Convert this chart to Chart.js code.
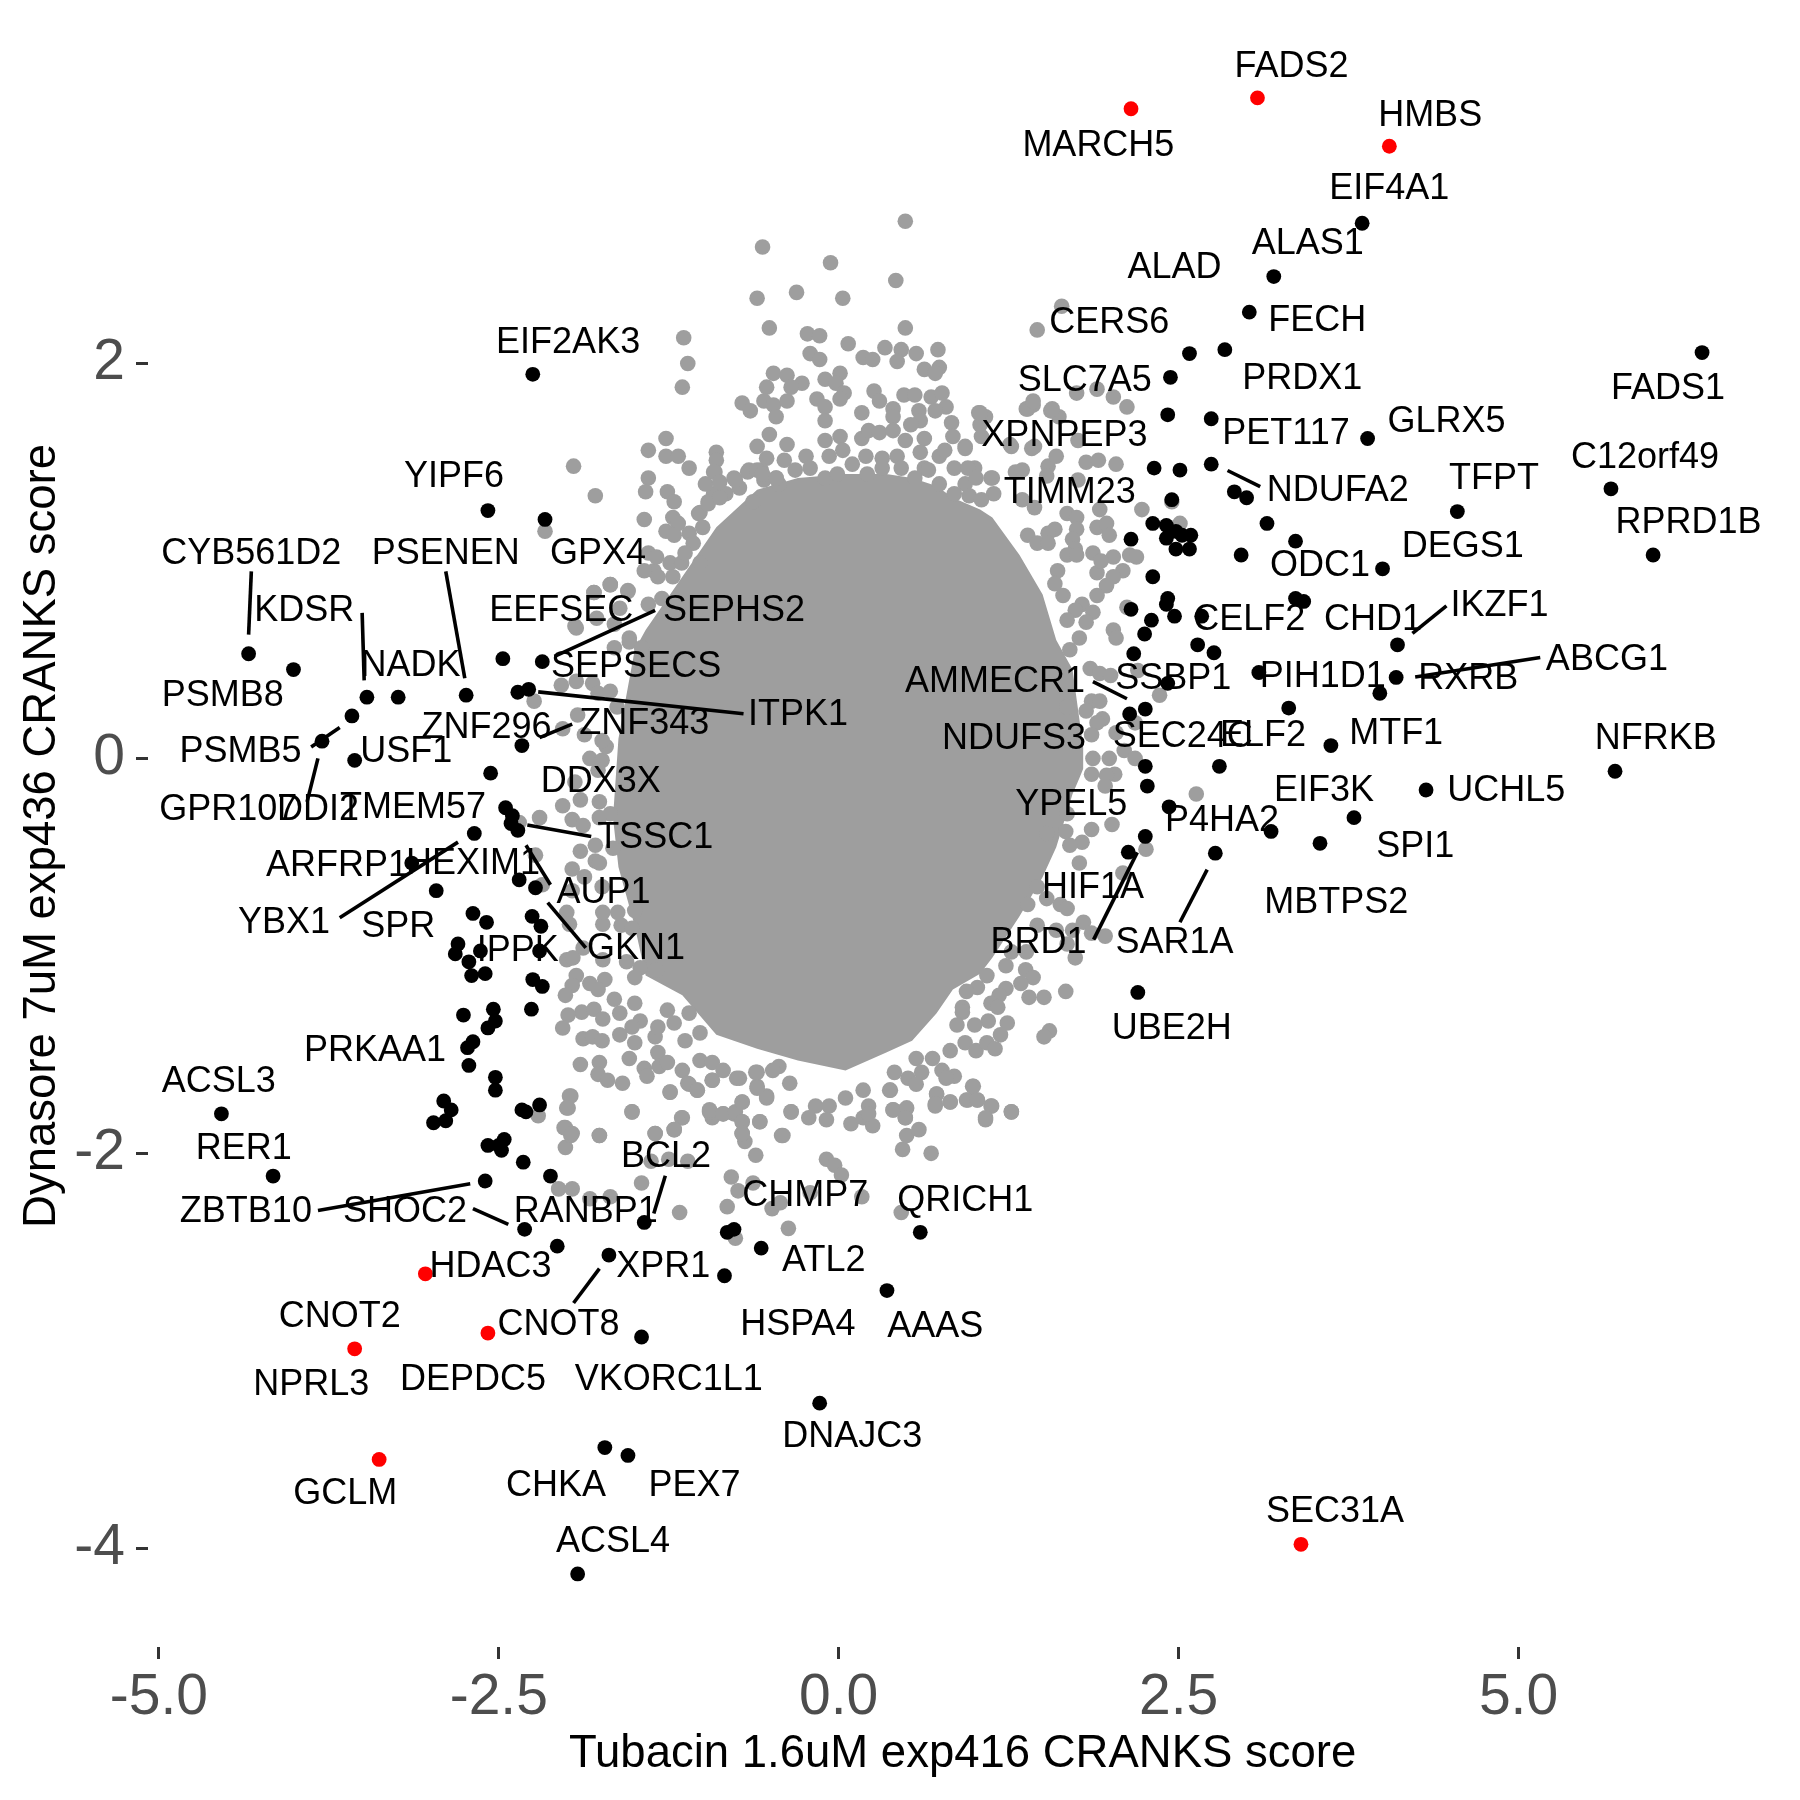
<!DOCTYPE html>
<html><head><meta charset="utf-8">
<style>html,body{margin:0;padding:0;background:#fff}#w{width:1800px;height:1800px}</style>
<script src="https://cdn.jsdelivr.net/npm/chart.js@4"></script></head>
<body><div id="w"><canvas id="c" width="1800" height="1800"></canvas></div>
<script>
const xTicks=[-5,-2.5,0,2.5,5];
const xTickLabels=["-5.0","-2.5","0.0","2.5","5.0"];
const yTicks=[2,0,-2,-4];
const yTickLabels=["2","0","-2","-4"];
const xTitle="Tubacin 1.6uM exp416 CRANKS score";
const yTitle="Dynasore 7uM exp436 CRANKS score";

// dense centre of the gray cloud, read as an envelope
const coreX=[-1.66,-1.62,-1.5,-1.42,-1.15,-0.9,-0.6,-0.3,0.05,0.35,0.54,0.72,0.84,1.04,1.13,1.33,1.5,1.6,1.72,1.77,1.8];
const coreUpper=[-0.3,0.1,0.55,0.65,0.92,1.17,1.36,1.42,1.44,1.44,1.42,1.38,1.32,1.26,1.22,1.03,0.83,0.6,0.45,0.2,0.05];
const coreLower=[-0.3,-0.55,-0.85,-1.1,-1.2,-1.4,-1.47,-1.53,-1.58,-1.49,-1.43,-1.29,-1.17,-1.09,-1.01,-0.8,-0.6,-0.45,-0.18,-0.1,-0.05];

const grayPoints=[[0.49,2.72],[-0.56,2.59],[-0.06,2.51],[0.42,2.42],[-0.6,2.33],[-0.31,2.36],[0.03,2.33],[-0.51,2.18],[0.49,2.18],[-1.14,2.13],[-1.11,2],[-1.15,1.88],[-0.23,2.15],[-0.14,2.14],[0.07,2.1],[-0.21,2.05],[-0.14,2.02],[0.18,2.03],[0.25,2.02],[0.34,2.08],[0.46,2.07],[0.43,2.01],[0.57,2.05],[0.73,2.07],[0.74,1.98],[0.63,1.97],[0.71,1.95],[-0.48,1.95],[-0.38,1.94],[-0.27,1.9],[-0.35,1.88],[-0.1,1.92],[0.01,1.95],[-0.02,1.9],[-0.53,1.88],[-0.71,1.8],[-0.65,1.76],[-0.55,1.81],[-0.48,1.79],[-0.46,1.73],[-0.38,1.81],[-0.16,1.82],[-0.1,1.78],[-0.1,1.71],[0.04,1.85],[0.01,1.82],[0.26,1.86],[0.3,1.81],[0.4,1.77],[0.4,1.73],[0.48,1.84],[0.56,1.84],[0.59,1.76],[0.6,1.71],[0.53,1.69],[0.68,1.83],[0.76,1.85],[0.79,1.78],[0.71,1.76],[0.83,1.7],[0.84,1.63],[0.93,1.58],[1.03,1.75],[1.08,1.73],[1.04,1.69],[1.05,1.63],[1.26,1.59],[1.43,1.79],[1.39,1.77],[1.56,1.76],[1.62,1.73],[1.46,2.17],[1.64,2.29],[-1.27,1.62],[-2.16,1.15],
[-0.51,1.64],[-0.6,1.58],[-0.38,1.59],[-0.53,1.52],[-0.4,1.51],[-0.24,1.53],[-0.32,1.46],[-0.1,1.61],[0.01,1.63],[-0.07,1.53],[0.03,1.56],[0.17,1.75],[0.17,1.62],[0.22,1.66],[0.3,1.65],[0.4,1.66],[0.49,1.61],[0.63,1.62],[0.43,1.53],[0.32,1.52],[0.2,1.53],[0.74,1.53],[0.6,1.55],[0.78,1.56],[0.63,1.47],[0.85,1.47],[1,1.47],[0.93,1.39],[1.12,1.42],[0.96,1.33],[-0.92,1.45],[-0.77,1.42],[-0.66,1.46],[-0.57,1.46],[-0.46,1.42],[-0.92,1.34],[1.14,1.34],
[-0.09,-2.03],[-0.03,-2.06],[0.02,-2.11],[0.68,-2],[0.47,-1.98],[0.5,-1.91],[0.59,-1.88],[0.46,-2.3],[0.17,-2.22],[-0.37,-2.38],[-0.49,-2.28],[-0.43,-2.25],[-0.21,-2.2],[-0.79,-2.12],[-0.63,-2.15],[-0.74,-2.19],[-0.82,-2.27],[-0.76,-2.43],[-0.61,-2.01],[-0.69,-1.94],[-0.71,-1.9],[-0.42,-1.91],[-0.58,-1.84],[-0.35,-1.79],[-0.71,-1.74],[-0.71,-1.84],[-0.77,-1.8],[-0.85,-1.8],[-0.93,-1.82],[-0.95,-1.79],[-1.15,-1.82],[-1.21,-1.88],[-1.35,-1.9],[-1.52,-1.79],[-1.76,-1.91],[-2.01,-1.97],[-1.97,-1.91],[-2.02,-1.87],[-2,-1.77],[-1.97,-1.71],[-2.21,-1.81],[-2.06,-2.18],[-1.96,-2.18],[-1.83,-2.23],[-1.68,-2.22],[-1.45,-2.15],[-1.38,-2.04],[-1.25,-2.03],[-1.11,-2.04],[-1.17,-2.3],[-1.24,-1.69],[-1.1,-1.65],[-1.04,-1.68],[-0.6,-1.66],[-0.53,-1.71],[0.05,-1.72],[0.18,-1.68],[0.38,-1.68],[0.22,-1.76],[-0.07,-1.76],[-0.17,-1.76],[-0.22,-1.82],[-0.09,-1.83],[0.09,-1.85],[0.18,-1.82],[0.25,-1.86],[0.22,-1.8],[0.4,-1.78],[0.49,-1.78],[0.49,-1.82],[0.72,-1.7],[0.71,-1.76],[0.82,-1.74],[0.95,-1.73],[1.02,-1.73],[0.99,-1.66],[1.12,-1.76],[1.08,-1.83],[1.27,-1.79],[-0.93,-1.63],[-0.73,-1.62],[-0.61,-1.59],[-0.44,-1.56],
[-1.68,0.88],[-1.8,0.84],[-1.55,0.85],[-1.94,0.67],[-1.54,0.61],[-1.65,0.56],[-2.24,0.29],[-2.35,-0.325],[-2.23,-0.49],[-2.18,-0.64],[-1.96,-0.67],[-1.74,-0.65],[-2,-0.78],[-1.36,0.95],
[1.38,1.77],[1.43,1.81],[1.57,1.77],[1.75,1.85],[1.9,1.87],[2.02,1.83],[2.12,1.78],[1.42,1.57],[1.04,1.75],[1.76,1.61],
[-1.03,1.24],[-0.96,1.3],[-0.83,1.34],[-0.73,1.37],[-0.63,1.3],[-0.55,1.41],[-0.44,1.39],[-0.21,1.47],[-0.1,1.42],[-0.01,1.44],[0.1,1.49],[0.21,1.44],[0.32,1.47],[0.46,1.47],[0.56,1.42],[0.66,1.46],[0.74,1.39],[0.85,1.34],[1.05,1.31],
// upper left edge
[-1.95,1.48],[-1.79,1.33],[-1.4,1.56],[-1.27,1.53],[-1.18,1.53],[-1.1,1.47],[-1.4,1.42],[-1.42,1.35],[-1.26,1.35],[-1.21,1.3],[-1.43,1.21],[-1.22,1.22],[-1.18,1.19],[-1.27,1.15],[-1.21,1.13],[-1.1,1.14],[-0.9,1.55],[-0.9,1.51],[-0.91,1.45],[-0.98,1.39],[-0.875,1.4],[-0.76,1.41],[-0.67,1.45],[-0.6,1.46],[-0.56,1.44],[-0.46,1.42],[-1.02,1.245],[-0.96,1.29],[-0.875,1.32],[-1.07,1.09],[-1,1.17],[-1.4,1.04],[-1.34,1.02],[-1.24,0.99],[-1.155,0.99],[-1.43,0.95],[-1.33,0.92],[-1.22,0.92],[-1.13,1.04],[-1.02,0.99],[-1.68,0.88],[-1.8,0.84],[-1.55,0.845],[-1.61,0.76],[-1.3,0.81],[-1.4,0.78],[-1.78,0.71],[-1.65,0.68],[-1.93,0.66],[-1.54,0.59],[-1.45,0.56],
// upper right edge
[0.93,1.57],[0.95,1.47],[1.01,1.42],[1.13,1.42],[1.3,1.45],[1.35,1.46],[1.54,1.48],[1.6,1.53],[1.53,1.43],[1.82,1.5],[1.91,1.51],[2.04,1.49],[1.44,1.58],[1.27,1.58],[1.76,1.41],[1.44,1.27],[1.35,1.31],[1.92,1.26],[2.23,1.26],[2.51,1.19],[2.45,1.3],[1.68,1.24],[1.75,1.22],[1.59,1.16],[1.54,1.14],[1.75,1.16],[1.72,1.11],[1.9,1.17],[1.97,1.19],[1.99,1.13],[1.39,1.13],[1.46,1.09],[1.54,1.09],[1.74,1.06],[1.68,1.03],[1.75,1.03],[1.87,1.04],[2.02,1.02],[2.14,1.03],[2.19,1.02],[2.09,0.95],[1.9,0.94],[1.93,1],[2.02,0.92],[1.97,0.875],[1.9,0.825],[1.61,0.95],[1.59,0.885],[1.65,0.825],[1.79,0.78],[1.87,0.74],[1.82,0.69],[1.74,0.75],[1.68,0.7],[1.77,0.61],[2.02,0.65],[2.04,0.61],[2.12,0.765],[1.7,0.55],
// left edge
[-2.04,0.37],[-1.93,0.39],[-1.92,0.22],[-2.03,0.15],[-1.87,0.12],[-1.83,0],[-1.74,-0.01],[-1.77,-0.06],[-1.94,-0.12],[-1.9,-0.21],[-2.03,-0.24],[-1.76,-0.22],[-1.96,-0.31],[-1.88,-0.34],[-2.2,-0.3],[-1.68,-0.28],[-1.76,-0.3],[-1.9,-0.47],[-1.79,-0.44],[-1.79,-0.52],[-1.66,-0.455],[-1.96,-0.56],[-1.87,-0.6],[-1.76,-0.53],[-1.71,0.06],[-1.81,0.38],[-1.77,0.33],[-1.68,0.34],[-1.63,0.26],[-1.74,0.09],
// right edge
[1.85,0.455],[1.92,0.43],[2,0.42],[2.36,0.32],[1.86,0.29],[1.92,0.29],[1.82,0.24],[1.68,0.26],[1.94,0.2],[1.9,0.18],[1.86,0.12],[2.04,0.13],[2.18,0.18],[2.1,0.04],[2.18,0],[1.99,0],[1.87,0],[2.03,-0.08],[1.97,-0.085],[1.86,-0.08],[1.96,-0.14],[2.63,-0.18],[2.01,-0.335],[1.86,-0.36],[1.67,-0.37],[1.79,-0.425],[1.7,-0.44],[2.26,-0.46],[1.77,-0.53],[2.09,-0.58],[1.68,-0.28],[1.53,-0.38],[2.2,0.445],
// lower left edge
[-1.735,-0.84],[-1.98,-0.84],[-1.6,-0.845],[-1.52,-0.86],[-1.735,-0.78],[-1.625,-0.78],[-1.5,-0.77],[-1.88,-0.96],[-2,-1.02],[-1.955,-1.01],[-1.735,-1.02],[-1.56,-1.03],[-1.46,-1.06],[-1.34,-1.07],[-1.93,-1.1],[-1.83,-1.14],[-1.72,-1.12],[-1.77,-1.17],[-1.96,-1.15],[-2.01,-1.2],[-1.65,-1.22],[-1.5,-1.11],[-1.5,-1.24],[-1.61,-1.29],[-1.46,-1.33],[-1.52,-1.36],[-1.89,-1.285],[-1.8,-1.27],[-1.735,-1.32],[-1.99,-1.3],[-2.03,-1.365],[-1.61,-1.4],[-1.88,-1.42],[-1.81,-1.41],[-1.74,-1.43],[-1.5,-1.44],[-1.35,-1.41],[-1.33,-1.36],[-1.26,-1.275],[-1.21,-1.34],[-1.1,-1.29],[-1.13,-1.43],[-1.02,-1.39],[-1.54,-1.52],[-1.33,-1.49],[-1.9,-1.55],[-1.76,-1.54],[-1.77,-1.6],[-1.7,-1.63],[-1.59,-1.645],[-1.43,-1.57],[-1.41,-1.61],[-1.32,-1.56],[-1.26,-1.54],[-1.15,-1.58],[-1.02,-1.53],[-0.93,-1.54],[-0.93,-1.63],[-0.85,-1.58],[-0.75,-1.62],[-0.6,-1.59],[-0.485,-1.58],[-1.11,-1.645],[-1.04,-1.68],[-1.24,-1.69],[-0.6,-1.67],[-0.53,-1.72],[-0.36,-1.645],[-1.98,-1.71],[-1.99,-1.77],[-1.52,-1.79],[-1.155,-1.82],[-1.21,-1.88],[-1.35,-1.9],[-1.76,-1.91],[-0.95,-1.78],[-0.85,-1.8],[-0.76,-1.79],[-0.71,-1.74],[-0.58,-1.84],[-0.71,-1.84],[-0.35,-1.79],[-0.41,-1.91],[-0.71,-1.9],[-2.01,-1.87],[-1.96,-1.9],
// lower right edge
[1.46,-0.65],[1.53,-0.71],[1.63,-0.74],[1.68,-0.76],[1.39,-0.74],[1.46,-0.845],[1.6,-0.87],[1.72,-0.87],[1.8,-0.83],[1.86,-0.885],[1.96,-0.9],[1.68,-0.94],[1.27,-0.98],[1.38,-0.98],[1.74,-1.01],[1.23,-1.05],[1.375,-1.07],[1.43,-1.11],[1.09,-1.1],[1.34,-1.14],[1.02,-1.16],[0.94,-1.18],[1.23,-1.165],[1.18,-1.2],[1.67,-1.18],[1.51,-1.21],[1.4,-1.21],[1.12,-1.24],[1.17,-1.26],[0.91,-1.26],[0.91,-1.285],[1.1,-1.33],[1,-1.35],[1.24,-1.34],[1.19,-1.4],[0.87,-1.35],[1.55,-1.38],[1.51,-1.41],[0.93,-1.44],[1.01,-1.48],[1.09,-1.44],[1.15,-1.47],[0.82,-1.48],[0.69,-1.52],[0.57,-1.52],[0.76,-1.58],[0.85,-1.61],[0.79,-1.62],[0.61,-1.59],[0.51,-1.62],[0.57,-1.65],[0.41,-1.59],[0.375,-1.68],[0.985,-1.66],[0.72,-1.7],[0.71,-1.75],[0.82,-1.74],[0.94,-1.73],[1.02,-1.73],[1.125,-1.76],[1.27,-1.79],[1.08,-1.82],[0.4,-1.78],[0.5,-1.77],[0.49,-1.82]];

const blackPoints=[[3.85,2.71],[3.2,2.44],[3.02,2.26],[2.84,2.07],[2.58,2.05],[2.44,1.93],[2.42,1.74],[2.74,1.72],[3.89,1.62],[2.74,1.49],[2.32,1.47],[2.51,1.46],[2.45,1.31],[2.91,1.35],[3,1.32],[3.15,1.19],[3.36,1.1],[2.96,1.03],[4,0.96],[2.15,1.11],[2.31,1.19],[2.41,1.18],[2.41,1.115],[2.48,1.15],[2.525,1.13],[2.59,1.13],[2.48,1.06],[2.58,1.06],[2.31,0.92],[2.42,0.81],[2.41,0.78],[2.15,0.755],[2.3,0.7],[2.47,0.72],[2.67,0.72],[3.36,0.81],[3.42,0.795],[2.17,0.53],[2.64,0.575],[2.76,0.535],[2.25,0.63],[4.11,0.575],[3.09,0.435],[4.1,0.41],[3.98,0.33],[2.42,0.38],[3.31,0.255],[2.255,0.25],[2.14,0.225],[3.62,0.065],[2.255,-0.04],[2.8,-0.04],[2.27,-0.14],[2.43,-0.245],[4.32,-0.16],[3.79,-0.3],[3.18,-0.37],[3.54,-0.43],[2.77,-0.48],[2.255,-0.395],[2.13,-0.475],[2.2,-1.185],[6.35,2.055],[5.68,1.365],[5.99,1.03],[4.55,1.25],[5.71,-0.065],
[-2.25,1.945],[-2.58,1.255],[-2.16,1.21],[-4.34,0.53],[-4.01,0.45],[-3.47,0.31],[-3.24,0.31],[-2.74,0.32],[-2.47,0.505],[-2.18,0.49],[-2.36,0.335],[-2.28,0.35],[-3.58,0.215],[-3.8,0.087],[-3.56,-0.01],[-2.33,0.065],[-2.56,-0.075],[-2.45,-0.25],[-2.4,-0.29],[-2.41,-0.33],[-2.36,-0.365],[-2.68,-0.38],[-3.14,-0.53],[-2.96,-0.67],[-2.35,-0.615],[-2.23,-0.655],[-2.69,-0.785],[-2.59,-0.83],[-2.255,-0.8],[-2.19,-0.85],[-2.8,-0.94],[-2.82,-0.99],[-2.72,-1.03],[-2.635,-0.975],[-2.2,-0.975],[-2.7,-1.1],[-2.6,-1.09],[-2.25,-1.12],[-2.18,-1.155],[-2.76,-1.3],[-2.54,-1.27],[-2.525,-1.33],[-2.58,-1.365],[-2.26,-1.27],[-2.69,-1.435],[-2.73,-1.465],[-2.72,-1.555],[-2.525,-1.615],[-2.525,-1.68],[-2.905,-1.735],[-2.85,-1.78],[-2.98,-1.845],[-2.89,-1.835],[-2.33,-1.78],[-2.3,-1.79],[-2.2,-1.755],[-4.54,-1.8],[-4.16,-2.115],[-2.58,-1.96],[-2.48,-1.985],[-2.5,-1.96],[-2.46,-1.93],[-2.32,-2.045],[-2.6,-2.14],[-2.12,-2.115],[-2.31,-2.385],[-2.07,-2.47],[-1.69,-2.515],[-1.43,-2.35],[-0.82,-2.4],[-0.77,-2.385],[-0.57,-2.48],[-0.84,-2.62],[0.6,-2.4],[0.355,-2.695],[-1.45,-2.93],[-0.14,-3.265],[-1.72,-3.49],[-1.55,-3.53],[-1.92,-4.13]];

const redX=[2.15,3.08,4.05,-3.04,-3.56,-2.58,-3.38,3.4];
const redY=[3.29,3.345,3.1,-2.61,-2.99,-2.91,-3.55,-3.98];

const labelNames=["FADS2","HMBS","MARCH5","EIF4A1","ALAS1","ALAD","FECH","CERS6","PRDX1","SLC7A5","GLRX5","XPNPEP3","PET117","FADS1","C12orf49","TFPT","TIMM23","NDUFA2","RPRD1B","DEGS1","ODC1","IKZF1","CHD1","CELF2","ABCG1","RXRB","PIH1D1","SSBP1","AMMECR1","MTF1","ELF2","SEC24C","NDUFS3","NFRKB","UCHL5","EIF3K","YPEL5","P4HA2","SPI1","MBTPS2","HIF1A","BRD1","SAR1A","UBE2H","EIF2AK3","YIPF6","CYB561D2","PSENEN","GPX4","KDSR","EEFSEC","SEPHS2","NADK","SEPSECS","PSMB8","ITPK1","ZNF296","ZNF343","PSMB5","USF1","DDX3X","GPR107","DDI2","TMEM57","TSSC1","ARFRP1","HEXIM1","AUP1","YBX1","SPR","IPPK","GKN1","PRKAA1","ACSL3","RER1","BCL2","CHMP7","QRICH1","ZBTB10","SHOC2","RANBP1","ATL2","HDAC3","XPR1","CNOT2","CNOT8","HSPA4","AAAS","DEPDC5","NPRL3","VKORC1L1","DNAJC3","GCLM","CHKA","PEX7","ACSL4","SEC31A"];
const labelX=[3.33,4.35,1.91,4.05,3.45,2.47,3.52,1.99,3.41,1.81,4.47,1.66,3.29,6.1,5.93,4.82,1.7,3.67,6.25,4.59,3.54,4.86,3.93,3.02,5.65,4.63,3.56,2.46,1.15,4.1,3.12,2.53,1.29,6.01,4.91,3.57,1.71,2.82,4.24,3.66,1.87,1.47,2.47,2.45,-1.99,-2.83,-4.32,-2.89,-1.77,-3.93,-2.04,-0.77,-3.15,-1.49,-4.53,-0.3,-2.59,-1.43,-4.4,-3.18,-1.75,-4.49,-3.83,-3.13,-1.35,-3.69,-2.69,-1.73,-4.08,-3.24,-2.36,-1.49,-3.41,-4.56,-4.375,-1.27,-0.245,0.93,-4.36,-3.19,-1.86,-0.11,-2.56,-1.29,-3.67,-2.06,-0.3,0.71,-2.69,-3.88,-1.25,0.1,-3.63,-2.08,-1.06,-1.66,3.65];
const labelY=[3.51,3.26,3.11,2.89,2.61,2.49,2.22,2.21,1.93,1.92,1.71,1.64,1.65,1.88,1.53,1.42,1.35,1.36,1.2,1.08,0.98,0.78,0.71,0.71,0.505,0.41,0.42,0.41,0.395,0.13,0.12,0.115,0.105,0.105,-0.157,-0.157,-0.23,-0.31,-0.44,-0.726,-0.65,-0.93,-0.93,-1.365,2.11,1.43,1.04,1.04,1.04,0.755,0.755,0.755,0.476,0.47,0.325,0.226,0.163,0.18,0.04,0.04,-0.11,-0.255,-0.255,-0.244,-0.395,-0.54,-0.53,-0.674,-0.825,-0.848,-0.97,-0.958,-1.475,-1.63,-1.97,-2.01,-2.21,-2.235,-2.29,-2.29,-2.29,-2.54,-2.57,-2.57,-2.82,-2.86,-2.86,-2.87,-3.14,-3.165,-3.14,-3.43,-3.72,-3.68,-3.68,-3.96,-3.81];

const segFromX=[-4.32,-3.505,-2.89,-1.35,-2.21,-1.96,-3.88,-3.83,-2.29,-2.3,-2.14,-3.67,-3.83,-2.69,-1.275,-1.76,2.86,4.47,5.16,1.87,2.196,2.71];
const segFromY=[0.947,0.737,0.947,0.75,0.337,0.174,0.058,0,-0.337,-0.44,-0.73,-0.807,-2.29,-2.28,-2.114,-2.584,1.458,0.772,0.511,0.389,-0.476,-0.563];
const segToX=[-4.34,-3.49,-2.75,-2.09,-0.7,-2.2,-3.67,-3.91,-1.82,-2.12,-1.86,-2.8,-2.71,-2.43,-1.36,-1.95,3.1,4.22,4.24,2.12,1.875,2.51];
const segToY=[0.627,0.395,0.406,0.517,0.226,0.105,0.157,-0.22,-0.395,-0.64,-0.96,-0.424,-2.154,-2.36,-2.305,-2.758,1.376,0.633,0.412,0.302,-0.918,-0.83];

const GRAY="#9E9E9E";
const toPts=a=>a.map(p=>({x:p[0],y:p[1]}));
const segDatasets=segFromX.map((x,i)=>({type:"scatter",showLine:true,borderColor:"#000",borderWidth:3.6,pointRadius:0,
  data:[{x:x,y:segFromY[i]},{x:segToX[i],y:segToY[i]}],order:1}));

const labelPlugin={id:"geneLabels",afterDatasetsDraw(ch){
  const c=ch.ctx,sx=ch.scales.x,sy=ch.scales.y;
  c.save();c.fillStyle="#000";c.font='36px "Liberation Sans"';c.textAlign="center";c.textBaseline="middle";
  labelNames.forEach((t,i)=>c.fillText(t,sx.getPixelForValue(labelX[i]),sy.getPixelForValue(labelY[i])+1.5));
  c.font='45.5px "Liberation Sans"';
  c.fillText(xTitle,962.6,1754);
  c.translate(42,836);c.rotate(-Math.PI/2);c.fillText(yTitle,0,0);
  c.restore();
}};

new Chart(document.getElementById("c"),{
  type:"scatter",
  data:{datasets:[
    {showLine:true,data:coreX.map((x,i)=>({x,y:coreUpper[i]})),borderColor:GRAY,backgroundColor:GRAY,borderWidth:0,pointRadius:0,fill:"+1",order:6},
    {showLine:true,data:coreX.map((x,i)=>({x,y:coreLower[i]})),borderColor:GRAY,borderWidth:0,pointRadius:0,fill:false,order:6},
    {data:toPts(grayPoints),backgroundColor:GRAY,borderColor:GRAY,pointBorderWidth:0,pointRadius:7.8,order:5},
    {data:toPts(blackPoints),backgroundColor:"#000",borderColor:"#000",pointBorderWidth:0,pointRadius:7.4,order:3},
    {data:redX.map((x,i)=>({x,y:redY[i]})),backgroundColor:"#FF0000",borderColor:"#FF0000",pointBorderWidth:0,pointRadius:7.4,order:2},
    ...segDatasets
  ]},
  options:{
    responsive:false,animation:false,
    layout:{padding:{left:0,right:15,top:10,bottom:0}},
    plugins:{legend:{display:false},tooltip:{enabled:false},title:{display:false}},
    scales:{
      x:{type:"linear",min:-5.08,max:6.96,
        afterBuildTicks(s){s.ticks=xTicks.map(v=>({value:v}))},
        afterFit(s){s.height=153;s.paddingLeft=0;s.paddingRight=0},
        grid:{drawOnChartArea:false,drawTicks:true,tickLength:12,tickColor:"#333333",tickWidth:3},
        border:{display:false},
        ticks:{autoSkip:false,maxRotation:0,padding:5,color:"#4D4D4D",font:{family:"Liberation Sans",size:57},
          callback(v){return xTickLabels[xTicks.indexOf(v)]}}},
      y:{type:"linear",min:-4.5,max:3.79,
        afterBuildTicks(s){s.ticks=yTicks.map(v=>({value:v}))},
        afterFit(s){s.width=148;s.paddingTop=0;s.paddingBottom=0},
        grid:{drawOnChartArea:false,drawTicks:true,tickLength:12,tickColor:"#333333",tickWidth:3},
        border:{display:false},
        ticks:{autoSkip:false,padding:11,color:"#4D4D4D",font:{family:"Liberation Sans",size:57},
          callback(v){return yTickLabels[yTicks.indexOf(v)]}}}
    }
  },
  plugins:[labelPlugin]
});
</script></body></html>
